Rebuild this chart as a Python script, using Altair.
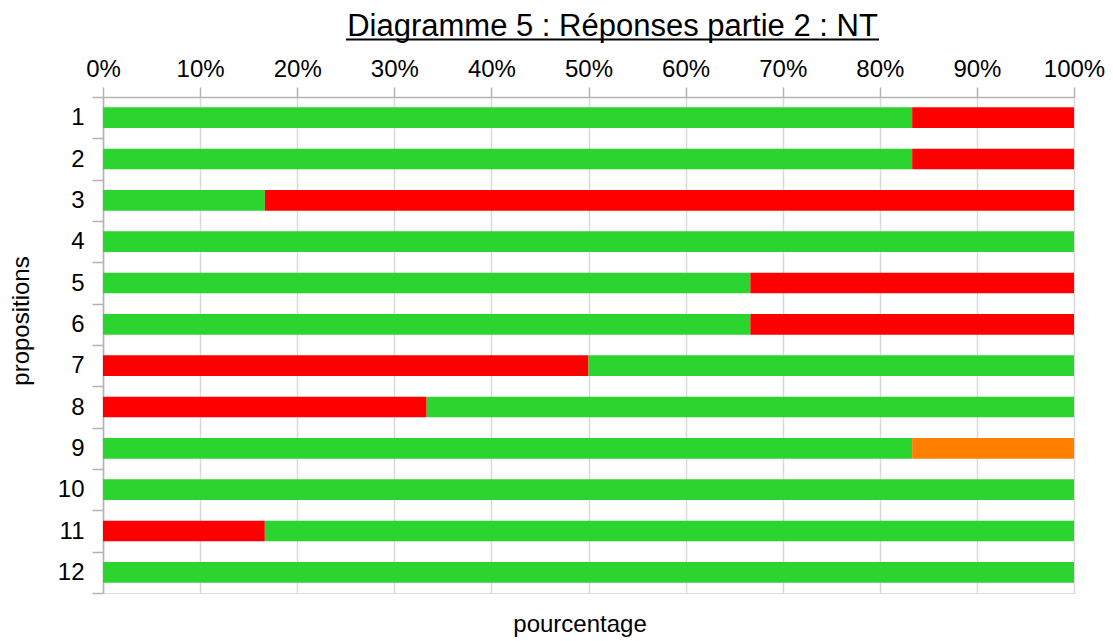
import altair as alt
import pandas as pd

propositions = [str(i) for i in range(1, 13)]
# proportions (multiples of 1/6)
first_values = [5/6, 5/6, 1/6, 1.0, 4/6, 4/6, 3/6, 2/6, 5/6, 1.0, 1/6, 1.0]
first_kind = ["vert", "vert", "vert", "vert", "vert", "vert", "rouge", "rouge", "vert", "vert", "rouge", "vert"]
second_values = [1/6, 1/6, 5/6, 0.0, 2/6, 2/6, 3/6, 4/6, 1/6, 0.0, 5/6, 0.0]
second_kind = ["rouge", "rouge", "rouge", "rouge", "rouge", "rouge", "vert", "vert", "orange", "vert", "vert", "vert"]

kinds = ["vert", "rouge", "orange"]
kind_colors = ["#2bd42e", "#ff0000", "#ff8000"]

rows = []
for p, v1, k1, v2, k2 in zip(propositions, first_values, first_kind, second_values, second_kind):
    rows.append({"prop": p, "val": v1, "kind": k1, "seg": 0})
    rows.append({"prop": p, "val": v2, "kind": k2, "seg": 1})
df = pd.DataFrame(rows)

W, H = 971, 496
FONT = "Liberation Sans"

bars = alt.Chart(df).mark_bar(cornerRadius=0, height={"band": 0.5}).encode(
    x=alt.X("val:Q", stack="normalize",
            scale=alt.Scale(domain=[0, 1], nice=False),
            axis=alt.Axis(orient="top", format=".0%", values=[i / 10 for i in range(11)],
                          title=None, labelFontSize=24, labelFont=FONT, labelColor="#000000",
                          tickSize=10, tickColor="#b3b3b3", tickWidth=1.5,
                          domainColor="#b3b3b3", domainWidth=1.5,
                          gridColor="#d9d9d9", gridWidth=1.5, labelPadding=6,
                          labelFlush=False)),
    y=alt.Y("prop:N", sort=propositions,
            scale=alt.Scale(paddingInner=0, paddingOuter=0),
            axis=alt.Axis(title=None, labelFontSize=24, labelFont=FONT, labelColor="#000000",
                          tickBand="extent", tickSize=11, tickColor="#b3b3b3", tickWidth=1.5,
                          domainColor="#b3b3b3", domainWidth=1.5, labelPadding=8, grid=False)),
    color=alt.Color("kind:N", scale=alt.Scale(domain=kinds, range=kind_colors), legend=None),
    order=alt.Order("seg:Q"),
)

title_df = pd.DataFrame({"t": ["Diagramme 5 : Réponses partie 2 : NT"]})
title = alt.Chart(title_df).mark_text(fontSize=31, font=FONT, color="#000000",
                                      align="center", baseline="alphabetic").encode(
    x=alt.value(509.5), y=alt.value(-61), text="t:N")
underline = alt.Chart(title_df).mark_rule(color="#000000", strokeWidth=1.8).encode(
    x=alt.value(243), x2=alt.value(776), y=alt.value(-57.5))

xt_df = pd.DataFrame({"t": ["pourcentage"]})
xtitle = alt.Chart(xt_df).mark_text(fontSize=24, font=FONT, color="#000000",
                                    align="center", baseline="alphabetic").encode(
    x=alt.value(477), y=alt.value(535), text="t:N")

yt_df = pd.DataFrame({"t": ["propositions"]})
ytitle = alt.Chart(yt_df).mark_text(fontSize=24, font=FONT, color="#000000", angle=270,
                                    align="center", baseline="middle").encode(
    x=alt.value(-81), y=alt.value(224), text="t:N")

chart = alt.layer(bars, title, underline, xtitle, ytitle).properties(
    width=W, height=H,
    autosize=alt.AutoSizeParams(type="none"),
    padding={"left": 95, "top": 89, "right": 31, "bottom": 46},
).configure_view(stroke="#b3b3b3", strokeWidth=1.5).configure(background="white")

chart.save("out.html", embed_options={"renderer": "svg", "actions": False})
